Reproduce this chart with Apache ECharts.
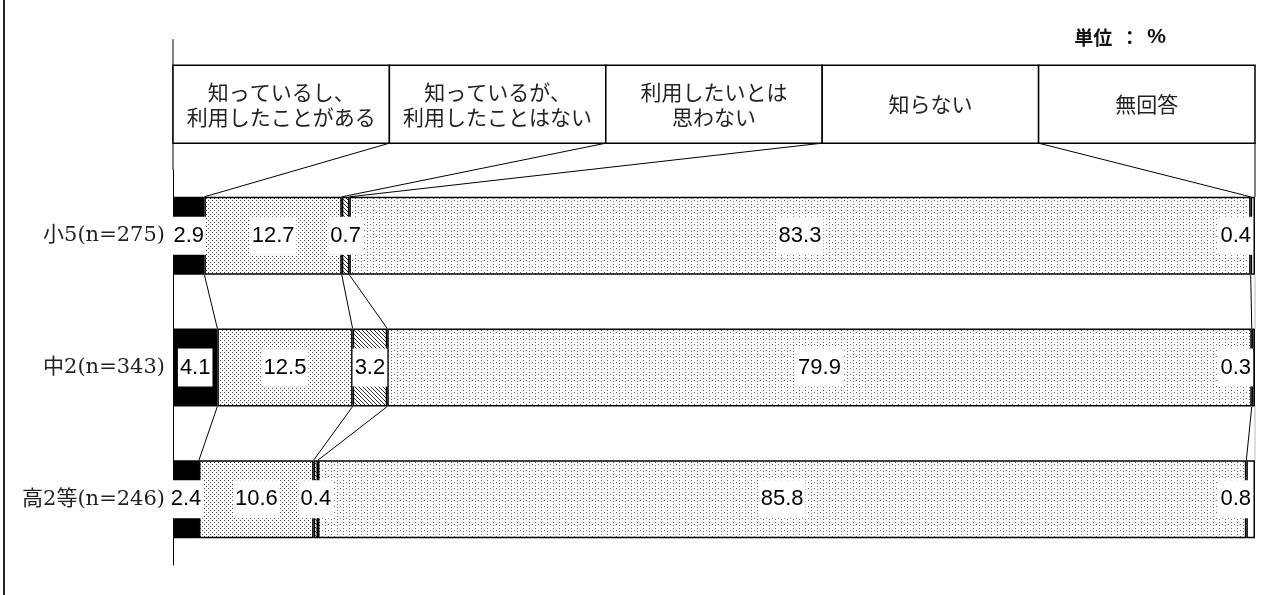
<!DOCTYPE html>
<html><head><meta charset="utf-8">
<script src="https://cdn.jsdelivr.net/npm/echarts@6/dist/echarts.min.js"></script>
<style>html,body{margin:0;padding:0;background:#fff}#c{width:1278px;height:595px}</style>
</head><body><div id="c"></div>
<script>
// ---- data ----
const categories = ['小5(n=275)', '中2(n=343)', '高2等(n=246)'];
const seriesNames = ['知っているし、\n利用したことがある', '知っているが、\n利用したことはない', '利用したいとは\n思わない', '知らない', '無回答'];
const knownUsed = [2.9, 4.1, 2.4];
const knownNotUsed = [12.7, 12.5, 10.6];
const notWant = [0.7, 3.2, 0.4];
const unknown = [83.3, 79.9, 85.8];
const noAnswer = [0.4, 0.3, 0.8];
const unitParts = ['単位', '：', '%'];
const headerSteps = [0, 20, 40, 60, 80, 100];

// ---- style ----
const BAR_H = 78;
const CJK = "'Noto Sans CJK JP', sans-serif";
const NUM = "'Liberation Sans Narrow', 'Liberation Sans', Arial, sans-serif";
const SERIF = "'DejaVu Serif', 'Noto Sans CJK JP', serif";

function makePattern(w, h, draw) {
  const c = document.createElement('canvas');
  c.width = w; c.height = h;
  const ctx = c.getContext('2d');
  ctx.fillStyle = '#fff'; ctx.fillRect(0, 0, w, h);
  draw(ctx);
  return { image: c, repeat: 'repeat' };
}
const densePat = makePattern(4, 4, ctx => {
  ctx.fillStyle = '#444';
  ctx.fillRect(0, 0, 1, 1); ctx.fillRect(2, 2, 1, 1);
});
const hatchPat = makePattern(4, 4, ctx => {
  ctx.strokeStyle = '#333'; ctx.lineWidth = 1;
  ctx.beginPath(); ctx.moveTo(-1, -1); ctx.lineTo(5, 5); ctx.stroke();
});
const sparsePat = makePattern(6, 6, ctx => {
  ctx.fillStyle = '#666';
  ctx.fillRect(1, 0, 1, 1); ctx.fillRect(1, 3, 1, 1); ctx.fillRect(4, 2, 1, 1);
});

const rows = [knownUsed, knownNotUsed, notWant, unknown, noAnswer];
const fills = ['#000', densePat, hatchPat, sparsePat, '#fff'];
const cum = categories.map((_, r) => {
  let s = 0; return rows.map(arr => (s += arr[r]));
});

const labelBase = {
  show: true, color: '#000', backgroundColor: '#fff',
  padding: [9, 2, 7, 2], fontSize: 22, fontFamily: NUM,
  formatter: p => Number(p.value).toFixed(1)
};

const barSeries = rows.map((arr, i) => ({
  type: 'bar', name: seriesNames[i], stack: 'all', data: arr,
  barWidth: BAR_H,
  itemStyle: { color: fills[i], borderColor: '#000', borderWidth: 1.5 },
  label: Object.assign({}, labelBase, i === 4 ? { position: 'insideRight', distance: 2 } : { position: 'inside' }),
  emphasis: { disabled: true }, silent: true
}));

const decorSeries = {
  type: 'custom', silent: true, clip: false, z: 5,
  data: [[0, 0]], encode: { x: 0, y: 1 },
  renderItem: function (params, api) {
    const xAt = v => api.coord([v, 0])[0];
    const yc = r => api.coord([0, r])[1];
    const band = yc(1) - yc(0);
    const half = BAR_H / 2;
    const hTop = yc(0) - band - half, hBot = yc(0) - band + half;
    const ch = [];
    const line = (x1, y1, x2, y2, stroke, w) => ch.push({
      type: 'line', shape: { x1, y1, x2, y2 }, style: { stroke: stroke || '#000', lineWidth: w || 1 }
    });
    // upper axis extension
    line(xAt(0), hTop - 26, xAt(0), yc(0) - band / 2, '#000', 1);
    // header boxes
    for (let i = 0; i < 5; i++) {
      const xa = xAt(headerSteps[i]), xb = xAt(headerSteps[i + 1]);
      ch.push({ type: 'rect', shape: { x: xa, y: hTop, width: xb - xa, height: hBot - hTop },
        style: { fill: '#fff', stroke: '#000', lineWidth: 1.5 } });
      ch.push({ type: 'text', style: { text: seriesNames[i], x: (xa + xb) / 2, y: (hTop + hBot) / 2,
        align: 'center', verticalAlign: 'middle', fontSize: 21, lineHeight: 25, fontFamily: CJK, fill: '#222' } });
    }
    // header connectors
    for (let k = 0; k < 4; k++) line(xAt(headerSteps[k + 1]), hBot, xAt(cum[0][k]), yc(0) - half);
    line(xAt(100), hBot, xAt(cum[0][4]), yc(0) - half);
    // row connectors
    for (let r = 0; r < categories.length - 1; r++) {
      for (let k = 0; k < 4; k++) line(xAt(cum[r][k]), yc(r) + half, xAt(cum[r + 1][k]), yc(r + 1) - half);
      line(xAt(cum[r][4]), yc(r) + half, xAt(cum[r + 1][4]), yc(r + 1) - half, '#bbb', 1);
    }
    return { type: 'group', children: ch };
  }
};

const chart = echarts.init(document.getElementById('c'), null, { renderer: 'canvas' });
chart.setOption({
  animation: false,
  backgroundColor: '#fff',
  title: {
    text: '{a|' + unitParts[0] + '}{b|' + unitParts[1] + '}{c|' + unitParts[2] + '}',
    right: 107, top: 22,
    textStyle: {
      rich: {
        a: { fontSize: 19, fontWeight: 'bold', fontFamily: CJK, color: '#111' },
        b: { fontSize: 19, fontWeight: 'bold', fontFamily: CJK, color: '#111', padding: [0, 8, 0, 8] },
        c: { fontSize: 21, fontWeight: 'bold', fontFamily: "'Liberation Sans', Arial, sans-serif", color: '#111' }
      }
    }
  },
  grid: { left: 173, right: 23, top: 170, bottom: 30, outerBoundsMode: 'none' },
  xAxis: { type: 'value', min: 0, max: 100, show: false },
  yAxis: {
    type: 'category', inverse: true, data: categories,
    axisLine: { show: true, lineStyle: { color: '#000', width: 1 } },
    axisTick: { show: false },
    axisLabel: { margin: 8, fontSize: 21, color: '#222', fontFamily: SERIF }
  },
  graphic: [{ type: 'line', shape: { x1: 4, y1: 0, x2: 4, y2: 595 }, style: { stroke: '#222', lineWidth: 2 }, silent: true }],
  series: barSeries.concat([decorSeries])
});
</script></body></html>
